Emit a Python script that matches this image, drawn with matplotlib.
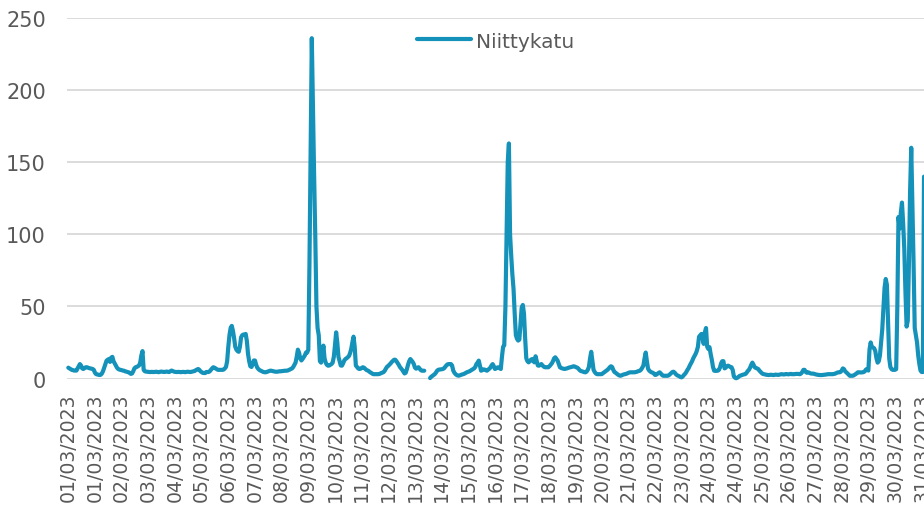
import numpy as np
import matplotlib
matplotlib.use("Agg")
import matplotlib.pyplot as plt

series_name = "Niittykatu"

# hourly values, one list per day of March 2023 (None = missing)
d01 = [7.5, 7, 6.5, 6, 5.8, 5.5, 5.5, 5.5, 7, 8.5, 10, 9, 7, 6.6, 7.2, 7.8, 7.8, 7.5, 7.2, 7, 6.8, 6.6, 6, 4]
d02 = [3, 2.8, 2.6, 2.4, 2.6, 3.5, 5.2, 7.5, 10, 12.4, 13, 13.5, 11.5, 14.5, 15, 12, 10.5, 9, 7.5, 6.6, 6.2, 6, 5.8, 5.5]
d03 = [5.4, 5, 4.8, 4.5, 4.3, 3.8, 3.2, 3.5, 5, 7, 7.8, 8, 8.5, 9, 11, 16, 19, 6, 5, 4.8, 4.7, 4.6, 4.5, 4.5]
d04 = [4.6, 4.5, 4.5, 4.6, 4.7, 4.5, 4.4, 4.6, 4.8, 4.7, 4.6, 4.5, 4.7, 4.8, 4.6, 4.5, 5.0, 5.5, 5.2, 4.8, 4.6, 4.5, 4.5, 4.6]
d05 = [4.5, 4.4, 4.5, 4.6, 4.5, 4.4, 4.6, 4.7, 4.6, 4.5, 4.6, 4.8, 5.0, 5.2, 5.8, 6.2, 6.6, 6, 5, 4.4, 3.9, 3.8, 3.8, 4.5]
d06 = [4.5, 4.5, 5, 6, 7, 7.8, 7.5, 7, 6.5, 6, 6, 6, 6, 6, 6.2, 7, 8, 12, 22, 30, 35, 36.5, 33, 28]
d07 = [22, 20, 19, 18.5, 22, 28.5, 30, 30.5, 30.5, 30.9, 26, 17, 12, 8.5, 8, 10, 12.5, 12.5, 9.5, 7.5, 6.5, 5.8, 5.4, 5]
d08 = [4.6, 4.4, 4.3, 4.5, 4.8, 5.1, 5.4, 5.4, 5.2, 5, 4.8, 4.7, 4.7, 4.8, 5, 5, 5.1, 5.2, 5.3, 5.4, 5.4, 5.5, 5.8, 6.2]
d09 = [6.6, 7, 8, 9.5, 11, 15, 20, 18, 14, 12.5, 13.5, 14.7, 16, 18, 18, 20, 80, 158, 236, 187, 141, 99, 50, 35]
d10 = [30, 12, 11, 16, 22.8, 14, 11, 9.5, 8.9, 9, 9.5, 10, 11, 15, 23, 32, 25, 15, 12, 9, 8.9, 10.5, 12.5, 13.5]
d11 = [14, 14.7, 15.5, 17.5, 20.5, 25, 29, 22, 9, 8, 7, 6.6, 6.8, 7.3, 7.8, 7.5, 6.8, 6, 5.6, 5.2, 4.5, 4, 3.5, 3]
d12 = [3, 3, 3, 3, 3.1, 3.4, 3.8, 4.1, 4.5, 5.5, 7, 8.2, 8.8, 9.6, 10.5, 11.5, 12.2, 13, 13, 12, 10.8, 9.5, 8, 7]
d13 = [6, 4.8, 3.5, 4, 6.5, 9.5, 12, 13.5, 12.5, 11.5, 10, 7.5, 6.8, 7.3, 7.8, 6.8, 5.8, 5.4, 5.4, 5.4, None, None, None, None]
d14 = [0.3, 1.2, 1.8, 2.4, 3, 4, 5.3, 6, 6.2, 6.3, 6.4, 6.6, 7, 8, 9, 9.8, 10, 10, 10, 9, 5.5, 4, 3, 2.4]
d15 = [2, 2, 2.3, 2.6, 2.9, 3.1, 3.5, 4, 4.4, 4.7, 5, 5.5, 6, 6.5, 7, 8, 10, 11, 12.4, 9, 5.4, 5.8, 6.3, 6.2]
d16 = [5.8, 5.4, 6, 6.8, 7.5, 9, 10, 8.5, 6.6, 7, 7.6, 7.8, 7.2, 6.6, 15, 22, 23, 50, 100, 150, 163, 100, 85, 72]
d17 = [62, 45, 30, 27.5, 26.3, 27, 38, 49, 51, 45, 28, 14, 12, 11.2, 12, 13, 13.5, 12, 11.2, 15.4, 12, 9, 8.9, 9.5]
d18 = [10, 9, 8.3, 7.8, 7.8, 7.8, 7.8, 8.5, 9.5, 10.5, 12, 14, 14.7, 13.5, 12.4, 10, 7.8, 7.3, 7, 6.8, 6.6, 6.8, 7, 7.3]
d19 = [7.6, 7.8, 8, 8.3, 8.5, 8.2, 7.8, 7.5, 6.8, 5.8, 5.2, 5, 4.7, 4.4, 4.3, 4.8, 6, 8, 14, 18.5, 12, 6, 4.5, 3.5]
d20 = [3, 3, 3, 3, 3, 3.6, 4.2, 4.8, 5.4, 6, 6.8, 7.8, 8.5, 8, 6, 4.5, 4, 3.3, 2.7, 2.2, 1.9, 2.1, 2.5, 2.8]
d21 = [3, 3.2, 3.5, 3.9, 4.2, 4.3, 4.3, 4.3, 4.3, 4.4, 4.6, 4.9, 5.2, 5.4, 6.2, 7.5, 9, 14, 18, 12, 6.8, 5.5, 4.8, 4.3]
d22 = [4, 3.5, 2.5, 2.6, 3.2, 3.8, 4.3, 3.5, 2.5, 1.9, 1.9, 1.9, 1.9, 1.9, 2.3, 3, 3.8, 4.5, 4.7, 4, 3, 2.3, 1.9, 1.5]
d23 = [1, 0.8, 1.5, 2.5, 3.3, 4.5, 6, 7.2, 9, 10.5, 12, 14, 15.5, 17, 19, 22, 29, 30, 30.9, 28, 24, 32, 35, 22]
d24 = [20.5, 21.7, 17, 13, 8, 5.4, 5.3, 5.3, 5.4, 5.8, 7.5, 10.5, 12, 12, 7, 7.5, 8.5, 8.9, 8.5, 8, 7.8, 6, 1.5, 0.5]
d25 = [0.2, 0.5, 1.2, 1.8, 2.1, 2.4, 2.7, 2.9, 3.1, 4, 5.2, 6, 7.5, 9.5, 11, 9.5, 7.8, 7.3, 7, 6.6, 5.5, 4.6, 3.8, 3.2]
d26 = [3, 2.8, 2.6, 2.5, 2.4, 2.5, 2.6, 2.5, 2.4, 2.5, 2.7, 2.6, 2.5, 2.6, 2.8, 3, 2.9, 2.8, 2.9, 3.1, 3.0, 2.9, 3, 3.2]
d27 = [3, 3, 3, 3.1, 3.2, 3.2, 3.1, 3, 3.5, 4.5, 6, 6, 4.5, 4, 4.3, 4, 3.6, 3.4, 3.4, 3.3, 3, 2.8, 2.6, 2.5]
d28 = [2.4, 2.4, 2.4, 2.5, 2.6, 2.7, 2.8, 3, 3, 3, 3, 3, 3.1, 3.3, 3.6, 4, 4.3, 4.3, 4.5, 5.5, 7, 6.5, 5, 4.3]
d29 = [3.5, 2.7, 1.9, 1.9, 1.9, 2, 2.5, 3, 3.7, 4.3, 4.3, 4.2, 4.2, 4.3, 4.5, 5, 6.3, 6.6, 5.5, 20, 25, 22, 21.5, 21]
d30 = [19, 14, 11, 12, 16, 25, 34, 48, 63, 69, 65, 40, 14, 8, 6.5, 6, 6, 6, 6.5, 50, 112, 104, 115, 122]
d31 = [108, 90, 60, 36, 40, 80, 130, 160, 120, 80, 35, 30, 25, 16, 10, 5.5, 4.5, 4.5, 140]

tick_labels = ["01/03/2023", "01/03/2023", "02/03/2023", "03/03/2023", "04/03/2023",
               "05/03/2023", "06/03/2023", "07/03/2023", "08/03/2023", "09/03/2023",
               "10/03/2023", "11/03/2023", "12/03/2023", "13/03/2023", "14/03/2023",
               "15/03/2023", "16/03/2023", "17/03/2023", "18/03/2023", "19/03/2023",
               "20/03/2023", "21/03/2023", "22/03/2023", "23/03/2023", "24/03/2023",
               "24/03/2023", "25/03/2023", "26/03/2023", "27/03/2023", "28/03/2023",
               "29/03/2023", "30/03/2023", "31/03/2023"]
label_every = 23
y_ticks = [0, 50, 100, 150, 200, 250]

days = [d01, d02, d03, d04, d05, d06, d07, d08, d09, d10, d11, d12, d13, d14, d15, d16,
        d17, d18, d19, d20, d21, d22, d23, d24, d25, d26, d27, d28, d29, d30, d31]
values = np.array([v for d in days for v in d], dtype=float)
hours = np.arange(len(values))

W, H = 924, 510
fig = plt.figure(figsize=(W / 100, H / 100), dpi=100)
ax = fig.add_axes([66.7 / W, (H - 379.5) / H, (W - 66.7) / W, (379.5 - 19) / H])

line_color = "#1592BA"
text_color = "#595959"
font = "DejaVu Sans"

ax.plot(hours, values, color=line_color, lw=3.0, solid_capstyle="round",
        solid_joinstyle="round", clip_on=False, label=series_name, zorder=3)

ax.set_ylim(0, 250)
ax.set_xlim(-1.38, 738.0)
ax.set_yticks(y_ticks)
ax.set_yticklabels([str(t) for t in y_ticks], fontsize=15, color=text_color, family=font)
ax.set_xticks(np.arange(len(tick_labels)) * label_every)
ax.set_xticklabels(tick_labels, rotation=90, fontsize=13.6, color=text_color, family=font)
ax.tick_params(axis="y", length=0, pad=15)
ax.tick_params(axis="x", length=0, pad=10)
ax.yaxis.grid(True, color="#D9D9D9", linewidth=1.3)
ax.set_axisbelow(True)
for s in ax.spines.values():
    s.set_visible(False)

leg = fig.legend(loc="center left", bbox_to_anchor=(417 / W, 1 - 42 / H), frameon=False,
                 borderpad=0, borderaxespad=0, handlelength=2.7, handletextpad=0.25,
                 prop={"family": font, "size": 14.5})
for t in leg.get_texts():
    t.set_color(text_color)

fig.savefig("out.png", dpi=100)
